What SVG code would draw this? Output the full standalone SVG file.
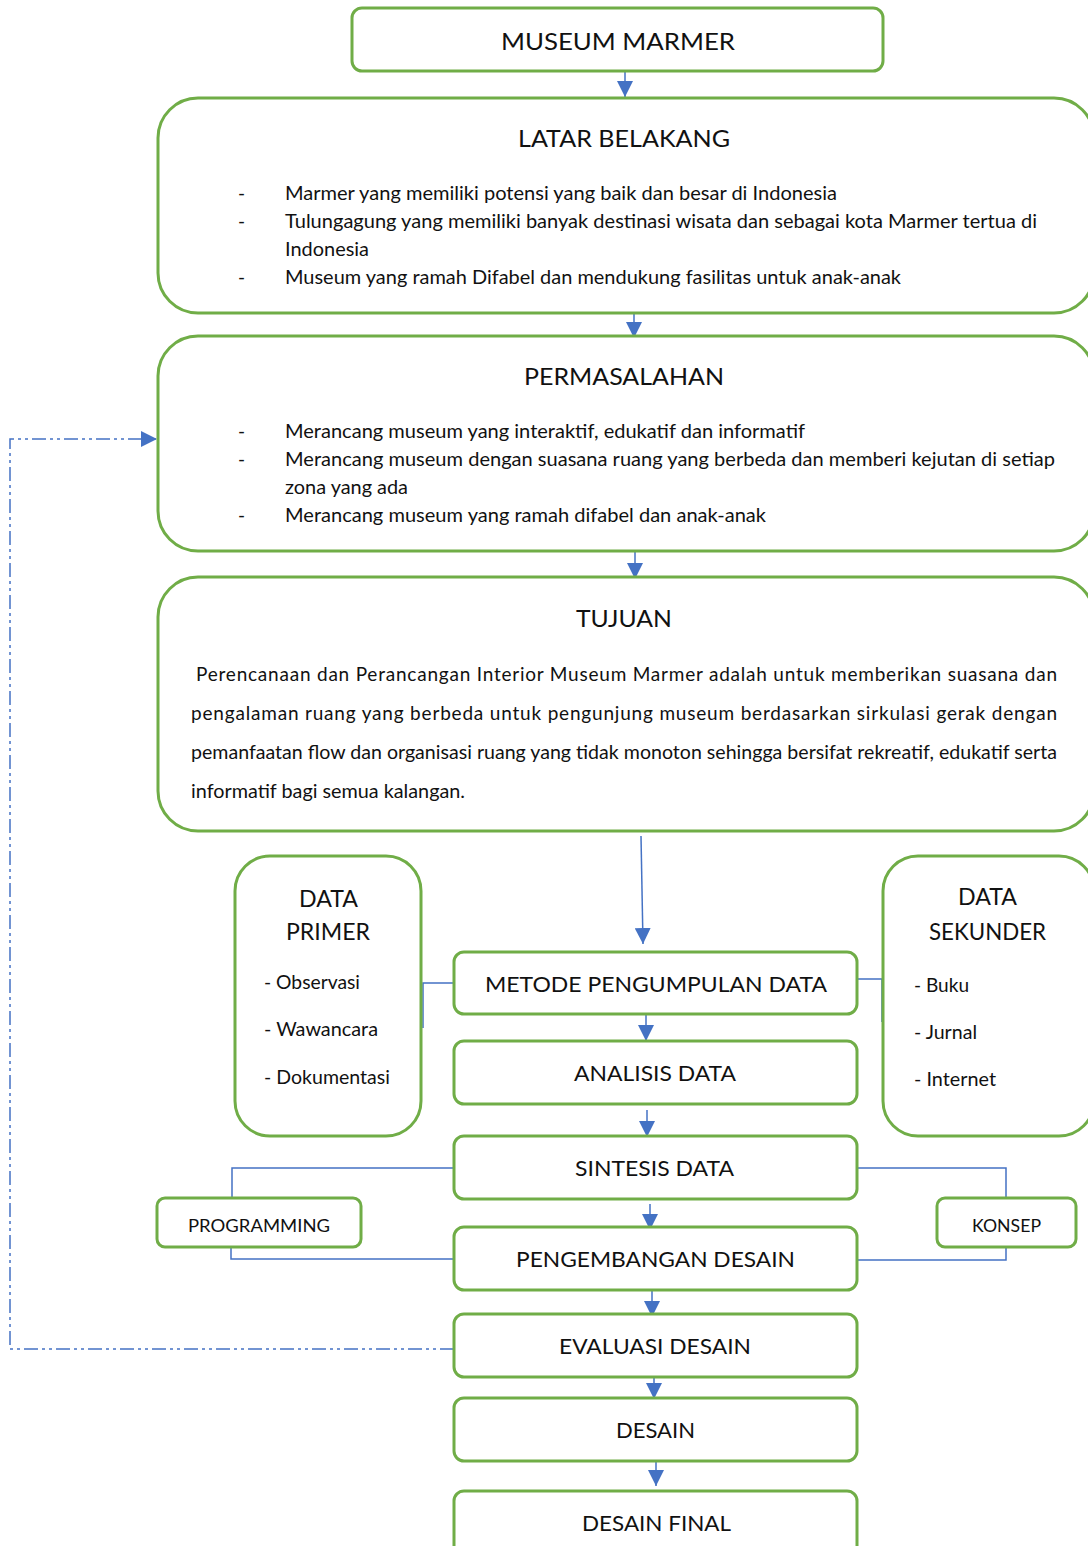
<svg xmlns="http://www.w3.org/2000/svg" width="1088" height="1546" viewBox="0 0 1088 1546">
<style>
.box{fill:#fff;stroke:#70AD47;stroke-width:3}
.t{font-family:Lato,"Open Sans","Liberation Sans",sans-serif;fill:#111}
.h{font-size:24px}
.b{font-size:19px}
.m{font-size:22px}
.s{font-size:18px}
.c{fill:none;stroke:#4472C4;stroke-width:1.5}
.d{fill:none;stroke:#4472C4;stroke-width:1.5;stroke-dasharray:14 4 3 4 3 4}
</style>
<defs>
<marker id="ar" markerUnits="userSpaceOnUse" markerWidth="16" markerHeight="16" viewBox="0 0 16 16" refX="16" refY="8" orient="auto">
<path d="M0,0 L16,8 L0,16 Z" fill="#4472C4"/>
</marker>
</defs>
<rect width="1088" height="1546" fill="#fff"/>
<g id="connectors">
<line class="c" x1="625" y1="71" x2="625" y2="97" marker-end="url(#ar)"/>
<line class="c" x1="634" y1="314" x2="634" y2="338" marker-end="url(#ar)"/>
<line class="c" x1="635" y1="552" x2="635" y2="579" marker-end="url(#ar)"/>
<line class="c" x1="641" y1="836" x2="643" y2="944" marker-end="url(#ar)"/>
<line class="c" x1="646" y1="1014" x2="646" y2="1041" marker-end="url(#ar)"/>
<line class="c" x1="647" y1="1110" x2="647" y2="1137" marker-end="url(#ar)"/>
<line class="c" x1="650" y1="1204" x2="650" y2="1230" marker-end="url(#ar)"/>
<line class="c" x1="652" y1="1291" x2="652" y2="1317" marker-end="url(#ar)"/>
<line class="c" x1="654" y1="1373" x2="654" y2="1399" marker-end="url(#ar)"/>
<line class="c" x1="656" y1="1459" x2="656" y2="1486" marker-end="url(#ar)"/>
<polyline class="c" points="454,983 423,983 423,1028"/>
<polyline class="c" points="857,979 882,979 882,1022"/>
<polyline class="c" points="454,1168 232,1168 232,1199"/>
<polyline class="c" points="231,1247 231,1259 454,1259"/>
<polyline class="c" points="857,1168 1006,1168 1006,1198"/>
<polyline class="c" points="1006,1247 1006,1260 857,1260"/>
<polyline class="d" points="454,1349 10,1349 10,439 157,439" marker-end="url(#ar)"/>
</g>
<g id="museum-marmer">
<rect class="box" x="352" y="8" width="531" height="63" rx="10"/>
<text class="t h" x="501" y="50" textLength="234" lengthAdjust="spacingAndGlyphs">MUSEUM MARMER</text>
</g>
<g id="latar-belakang">
<rect class="box" x="158" y="98" width="936" height="215" rx="40"/>
<text class="t h" x="518" y="147" textLength="212" lengthAdjust="spacingAndGlyphs">LATAR BELAKANG</text>
<text class="t b" x="238" y="200">-</text>
<text class="t b" x="285" y="200" textLength="552" lengthAdjust="spacingAndGlyphs">Marmer yang memiliki potensi yang baik dan besar di Indonesia</text>
<text class="t b" x="238" y="228">-</text>
<text class="t b" x="285" y="228" textLength="752" lengthAdjust="spacingAndGlyphs">Tulungagung yang memiliki banyak destinasi wisata dan sebagai kota Marmer tertua di</text>
<text class="t b" x="285" y="256" textLength="84" lengthAdjust="spacingAndGlyphs">Indonesia</text>
<text class="t b" x="238" y="284">-</text>
<text class="t b" x="285" y="284" textLength="616" lengthAdjust="spacingAndGlyphs">Museum yang ramah Difabel dan mendukung fasilitas untuk anak-anak</text>
</g>
<g id="permasalahan">
<rect class="box" x="158" y="336" width="936" height="215" rx="40"/>
<text class="t h" x="524" y="385" textLength="200" lengthAdjust="spacingAndGlyphs">PERMASALAHAN</text>
<text class="t b" x="238" y="438">-</text>
<text class="t b" x="285" y="438" textLength="520" lengthAdjust="spacingAndGlyphs">Merancang museum yang interaktif, edukatif dan informatif</text>
<text class="t b" x="238" y="466">-</text>
<text class="t b" x="285" y="466" textLength="770" lengthAdjust="spacingAndGlyphs">Merancang museum dengan suasana ruang yang berbeda dan memberi kejutan di setiap</text>
<text class="t b" x="285" y="494" textLength="123" lengthAdjust="spacingAndGlyphs">zona yang ada</text>
<text class="t b" x="238" y="522">-</text>
<text class="t b" x="285" y="522" textLength="481" lengthAdjust="spacingAndGlyphs">Merancang museum yang ramah difabel dan anak-anak</text>
</g>
<g id="tujuan">
<rect class="box" x="158" y="577" width="936" height="254" rx="40"/>
<text class="t h" x="576" y="627" textLength="96" lengthAdjust="spacingAndGlyphs">TUJUAN</text>
<text class="t b" x="196" y="681" textLength="861" lengthAdjust="spacing">Perencanaan dan Perancangan Interior Museum Marmer adalah untuk memberikan suasana dan</text>
<text class="t b" x="191" y="720" textLength="866" lengthAdjust="spacing">pengalaman ruang yang berbeda untuk pengunjung museum berdasarkan sirkulasi gerak dengan</text>
<text class="t b" x="191" y="759" textLength="866" lengthAdjust="spacingAndGlyphs">pemanfaatan flow dan organisasi ruang yang tidak monoton sehingga bersifat rekreatif, edukatif serta</text>
<text class="t b" x="191" y="798" textLength="274" lengthAdjust="spacingAndGlyphs">informatif bagi semua kalangan.</text>
</g>
<g id="data-primer">
<rect class="box" x="235" y="856" width="186" height="280" rx="35"/>
<text class="t h" x="299" y="907" textLength="59" lengthAdjust="spacingAndGlyphs">DATA</text>
<text class="t h" x="286" y="940" textLength="84" lengthAdjust="spacingAndGlyphs">PRIMER</text>
<text class="t b" x="264" y="989" textLength="96" lengthAdjust="spacingAndGlyphs">- Observasi</text>
<text class="t b" x="264" y="1036" textLength="114" lengthAdjust="spacingAndGlyphs">- Wawancara</text>
<text class="t b" x="264" y="1084" textLength="126" lengthAdjust="spacingAndGlyphs">- Dokumentasi</text>
</g>
<g id="data-sekunder">
<rect class="box" x="883" y="856" width="211" height="280" rx="35"/>
<text class="t h" x="958" y="905" textLength="59" lengthAdjust="spacingAndGlyphs">DATA</text>
<text class="t h" x="929" y="940" textLength="117" lengthAdjust="spacingAndGlyphs">SEKUNDER</text>
<text class="t b" x="914" y="992" textLength="55" lengthAdjust="spacingAndGlyphs">- Buku</text>
<text class="t b" x="914" y="1039" textLength="63" lengthAdjust="spacingAndGlyphs">- Jurnal</text>
<text class="t b" x="914" y="1086" textLength="82" lengthAdjust="spacingAndGlyphs">- Internet</text>
</g>
<g id="metode">
<rect class="box" x="454" y="952" width="403" height="62" rx="10"/>
<text class="t m" x="485" y="992" textLength="342" lengthAdjust="spacingAndGlyphs">METODE PENGUMPULAN DATA</text>
</g>
<g id="analisis">
<rect class="box" x="454" y="1041" width="403" height="63" rx="10"/>
<text class="t m" x="574" y="1081" textLength="162" lengthAdjust="spacingAndGlyphs">ANALISIS DATA</text>
</g>
<g id="sintesis">
<rect class="box" x="454" y="1136" width="403" height="63" rx="10"/>
<text class="t m" x="575" y="1176" textLength="159" lengthAdjust="spacingAndGlyphs">SINTESIS DATA</text>
</g>
<g id="programming">
<rect class="box" x="157" y="1198" width="204" height="49" rx="8"/>
<text class="t s" x="188" y="1232" textLength="142" lengthAdjust="spacingAndGlyphs">PROGRAMMING</text>
</g>
<g id="konsep">
<rect class="box" x="937" y="1198" width="139" height="49" rx="8"/>
<text class="t s" x="972" y="1232" textLength="69" lengthAdjust="spacingAndGlyphs">KONSEP</text>
</g>
<g id="pengembangan">
<rect class="box" x="454" y="1227" width="403" height="63" rx="10"/>
<text class="t m" x="516" y="1267" textLength="279" lengthAdjust="spacingAndGlyphs">PENGEMBANGAN DESAIN</text>
</g>
<g id="evaluasi">
<rect class="box" x="454" y="1314" width="403" height="63" rx="10"/>
<text class="t m" x="559" y="1354" textLength="192" lengthAdjust="spacingAndGlyphs">EVALUASI DESAIN</text>
</g>
<g id="desain">
<rect class="box" x="454" y="1398" width="403" height="63" rx="10"/>
<text class="t m" x="616" y="1438" textLength="79" lengthAdjust="spacingAndGlyphs">DESAIN</text>
</g>
<g id="desain-final">
<rect class="box" x="454" y="1491" width="403" height="80" rx="10"/>
<text class="t m" x="582" y="1531" textLength="149" lengthAdjust="spacingAndGlyphs">DESAIN FINAL</text>
</g>
</svg>
